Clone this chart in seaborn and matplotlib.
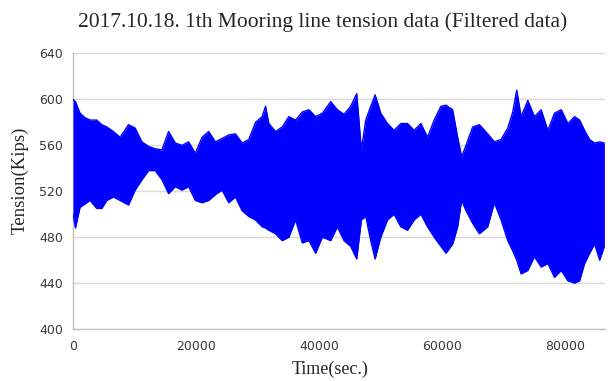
import matplotlib
matplotlib.use('Agg')
import matplotlib.pyplot as plt
import pandas as pd
import seaborn as sns
from matplotlib.ticker import MultipleLocator

# Envelope of the filtered tension signal
time_s = [0, 400, 1140, 1960, 2770, 3860, 4670, 5490, 6570, 7660, 9020, 10100,
          11200, 12300, 13370, 14460, 15540, 16630, 17720, 18800, 19890, 20980,
          22060, 23150, 24240, 25320, 26400, 27500, 28580, 29670, 30760, 31300,
          31840, 32930, 34020, 35100, 36190, 37280, 38360, 39450, 40540, 41900,
          42980, 44070, 45150, 46130, 46890, 47600, 48410, 49120, 50040, 51130,
          52210, 53300, 54390, 55470, 56560, 57650, 58730, 59820, 60640, 61730,
          62540, 63190, 63900, 64990, 66070, 67430, 68510, 69600, 70690, 71500,
          72150, 72860, 73950, 75030, 76120, 77210, 78290, 79380, 80470, 81550,
          82370, 83180, 84000, 84810, 85630, 86400]
upper = [600, 598, 588, 584, 582, 582, 578, 576, 572, 567, 578, 575,
         563, 559, 557, 556, 572, 562, 560, 563, 553, 567,
         572, 563, 566, 569, 570, 562, 565, 580, 585, 594,
         579, 572, 576, 585, 582, 589, 591, 585, 588, 598,
         591, 587, 594, 605, 556, 582, 594, 604, 588, 579,
         573, 579, 579, 573, 579, 567, 582, 594, 595, 591,
         567, 550, 560, 576, 578, 570, 563, 565, 575, 589,
         608, 585, 599, 585, 591, 573, 588, 591, 579, 585,
         582, 573, 565, 562, 563, 562]
lower = [500, 488, 506, 509, 512, 505, 505, 512, 515, 512, 508, 521,
         530, 538, 538, 530, 518, 524, 521, 524, 512, 510,
         512, 517, 521, 510, 515, 503, 498, 495, 489, 488,
         486, 483, 477, 480, 495, 475, 477, 466, 480, 477,
         489, 477, 472, 461, 495, 498, 477, 461, 480, 495,
         500, 489, 486, 495, 500, 489, 480, 472, 466, 474,
         489, 512, 503, 492, 483, 489, 510, 495, 477, 468,
         460, 448, 451, 463, 454, 457, 445, 451, 442, 440,
         442, 457, 466, 474, 460, 472]

x_ticks = [0, 20000, 40000, 60000, 80000]
y_ticks = [400, 440, 480, 520, 560, 600, 640]

df = pd.DataFrame({'time': time_s, 'upper': upper, 'lower': lower})

sns.set_style('white')
plt.rcParams['font.family'] = ['DejaVu Sans']

fig = plt.figure(figsize=(6.1, 3.81), dpi=100)
ax = fig.add_axes([0.1197, 0.1365, 0.8721, 0.7231])

blue = '#0000ff'
ax.fill_between(df['time'], df['lower'], df['upper'], color=blue, lw=0, zorder=3)
sns.lineplot(data=df, x='time', y='upper', ax=ax, color=blue, lw=1, zorder=3)
sns.lineplot(data=df, x='time', y='lower', ax=ax, color=blue, lw=1, zorder=3)

ax.set_xlim(0, 86500)
ax.set_ylim(400, 640)
ax.set_xticks(x_ticks)
ax.set_yticks(y_ticks)
ax.yaxis.set_minor_locator(MultipleLocator(20))
ax.grid(axis='y', which='major', color='#d9d9d9', lw=1)
ax.set_axisbelow(True)

for s in ['top', 'right']:
    ax.spines[s].set_visible(False)
for s in ['left', 'bottom']:
    ax.spines[s].set_color('#bfbfbf')
    ax.spines[s].set_linewidth(1)

ax.tick_params(axis='both', which='both', colors='#bfbfbf', labelcolor='#3a3a3a',
               labelsize=9, length=3, direction='out')
ax.tick_params(axis='x', pad=5)
ax.tick_params(axis='y', pad=4)

ax.set_xlabel('')
ax.set_ylabel('')
fig.text(323 / 610, 1 - 22 / 381, '2017.10.18. 1th Mooring line tension data (Filtered data)',
         ha='center', va='center', fontsize=15.5, family='Liberation Serif')
fig.text(20 / 610, 1 - 180 / 381, 'Tension(Kips)', rotation=90, ha='center',
         va='center', fontsize=13.5, family='Liberation Serif')
fig.text(330 / 610, 1 - 369 / 381, 'Time(sec.)', ha='center', va='center',
         fontsize=13, family='Liberation Serif')

fig.savefig('out.png', dpi=100)
